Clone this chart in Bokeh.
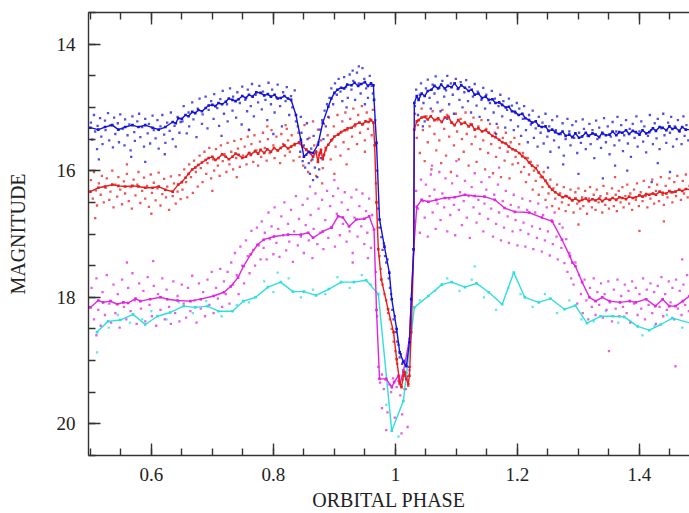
from bokeh.plotting import figure
from bokeh.models import Range1d, LinearAxis, FixedTicker
from bokeh.embed import file_html
from bokeh.resources import INLINE

# ---------------- data ----------------
x_major = [0.6, 0.8, 1.0, 1.2, 1.4]
x_labels = {0.6: "0.6", 0.8: "0.8", 1.0: "1", 1.2: "1.2", 1.4: "1.4"}
x_minor = [0.5, 0.55, 0.6, 0.65, 0.7, 0.75, 0.8, 0.85, 0.9, 0.95, 1.0, 1.05,
           1.1, 1.15, 1.2, 1.25, 1.3, 1.35, 1.4, 1.45]
y_major = [14, 16, 18, 20]
y_minor = [13.5, 14, 14.5, 15, 15.5, 16, 16.5, 17, 17.5, 18, 18.5, 19, 19.5, 20, 20.5]

blue_x = [0.500, 0.513, 0.524, 0.536, 0.546, 0.557, 0.569, 0.579, 0.590, 0.602, 0.612, 0.623,
          0.635, 0.640, 0.644, 0.650, 0.656, 0.661, 0.667, 0.672, 0.677, 0.683, 0.689, 0.694,
          0.700, 0.705, 0.710, 0.716, 0.722, 0.727, 0.733, 0.738, 0.743, 0.749, 0.755, 0.760,
          0.766, 0.772, 0.779, 0.785, 0.791, 0.796, 0.802, 0.807, 0.812, 0.818, 0.824, 0.829,
          0.837, 0.845, 0.850, 0.858, 0.865, 0.873, 0.881, 0.890, 0.895, 0.900, 0.905, 0.911,
          0.916, 0.921, 0.928, 0.933, 0.939, 0.944, 0.950, 0.955, 0.960, 0.964, 0.965, 0.969,
          0.974, 0.982, 0.990, 0.994, 1.002, 1.007, 1.013, 1.018, 1.023, 1.026, 1.030, 1.031,
          1.035, 1.038, 1.043, 1.048, 1.053, 1.059, 1.064, 1.070, 1.075, 1.081, 1.086, 1.092,
          1.097, 1.103, 1.108, 1.114, 1.120, 1.125, 1.130, 1.136, 1.142, 1.148, 1.153, 1.159,
          1.164, 1.170, 1.175, 1.181, 1.186, 1.191, 1.196, 1.202, 1.208, 1.213, 1.219, 1.224,
          1.230, 1.235, 1.240, 1.246, 1.251, 1.257, 1.262, 1.268, 1.274, 1.279, 1.285, 1.290,
          1.295, 1.301, 1.306, 1.312, 1.317, 1.323, 1.328, 1.334, 1.339, 1.345, 1.351, 1.356,
          1.362, 1.367, 1.372, 1.378, 1.383, 1.389, 1.394, 1.400, 1.405, 1.411, 1.416, 1.422,
          1.427, 1.433, 1.438, 1.444, 1.449, 1.454, 1.459, 1.465, 1.470, 1.476, 1.485]
blue_y = [15.32, 15.35, 15.31, 15.28, 15.35, 15.31, 15.28, 15.31, 15.28, 15.32, 15.35, 15.31,
          15.23, 15.25, 15.17, 15.18, 15.12, 15.14, 15.07, 15.09, 15.04, 15.06, 15.01, 14.97,
          14.96, 14.98, 14.93, 14.95, 14.91, 14.86, 14.88, 14.90, 14.87, 14.82, 14.85, 14.80,
          14.83, 14.76, 14.77, 14.81, 14.79, 14.83, 14.80, 14.86, 14.85, 14.82, 14.86, 14.88,
          15.12, 15.51, 15.78, 15.70, 15.72, 15.59, 15.24, 14.99, 14.86, 14.77, 14.72, 14.69,
          14.70, 14.64, 14.65, 14.61, 14.66, 14.63, 14.60, 14.66, 14.62, 14.65, 14.88, 15.56,
          16.77, 17.20, 17.61, 18.03, 18.50, 18.87, 19.02, 19.09, 18.71, 18.03, 17.24, 14.93,
          14.82, 14.88, 14.78, 14.82, 14.74, 14.72, 14.66, 14.70, 14.64, 14.70, 14.66, 14.68,
          14.62, 14.70, 14.65, 14.69, 14.74, 14.72, 14.80, 14.78, 14.85, 14.83, 14.88, 14.87,
          14.93, 14.92, 14.96, 15.00, 14.99, 15.06, 15.07, 15.12, 15.10, 15.17, 15.20, 15.24,
          15.22, 15.29, 15.31, 15.30, 15.37, 15.35, 15.39, 15.42, 15.38, 15.45, 15.43, 15.47,
          15.41, 15.48, 15.46, 15.40, 15.45, 15.41, 15.43, 15.47, 15.40, 15.44, 15.43, 15.38,
          15.44, 15.39, 15.40, 15.36, 15.42, 15.37, 15.39, 15.43, 15.36, 15.41, 15.39, 15.33,
          15.37, 15.31, 15.32, 15.36, 15.30, 15.34, 15.32, 15.37, 15.31, 15.35, 15.35]

red_x = [0.500, 0.513, 0.524, 0.536, 0.546, 0.557, 0.569, 0.579, 0.590, 0.602, 0.612, 0.623,
         0.635, 0.644, 0.650, 0.656, 0.661, 0.667, 0.672, 0.677, 0.683, 0.689, 0.694, 0.700,
         0.705, 0.710, 0.716, 0.722, 0.727, 0.733, 0.738, 0.743, 0.749, 0.755, 0.760, 0.763,
         0.770, 0.775, 0.779, 0.785, 0.790, 0.796, 0.801, 0.807, 0.812, 0.818, 0.824, 0.829,
         0.835, 0.842, 0.848, 0.854, 0.860, 0.865, 0.870, 0.873, 0.876, 0.878, 0.881, 0.883,
         0.886, 0.890, 0.895, 0.900, 0.906, 0.911, 0.917, 0.922, 0.928, 0.934, 0.941, 0.946,
         0.951, 0.956, 0.960, 0.964, 0.966, 0.969, 0.972, 0.977, 0.988, 0.997, 1.002, 1.007,
         1.010, 1.013, 1.015, 1.018, 1.021, 1.023, 1.026, 1.030, 1.031, 1.035, 1.038, 1.043,
         1.048, 1.053, 1.058, 1.064, 1.070, 1.076, 1.081, 1.087, 1.092, 1.097, 1.103, 1.108,
         1.114, 1.120, 1.125, 1.130, 1.136, 1.142, 1.148, 1.153, 1.159, 1.164, 1.170, 1.175,
         1.181, 1.186, 1.192, 1.197, 1.203, 1.208, 1.213, 1.219, 1.224, 1.230, 1.235, 1.241,
         1.246, 1.252, 1.257, 1.262, 1.268, 1.274, 1.279, 1.285, 1.290, 1.295, 1.301, 1.306,
         1.312, 1.317, 1.323, 1.328, 1.334, 1.339, 1.345, 1.351, 1.356, 1.362, 1.367, 1.372,
         1.378, 1.383, 1.389, 1.394, 1.400, 1.405, 1.411, 1.416, 1.422, 1.427, 1.433, 1.438,
         1.444, 1.449, 1.454, 1.459, 1.465, 1.470, 1.476, 1.485]
red_y = [16.33, 16.27, 16.25, 16.22, 16.24, 16.25, 16.24, 16.25, 16.27, 16.27, 16.25, 16.30,
         16.33, 16.22, 16.18, 16.11, 16.05, 15.98, 15.95, 15.91, 15.87, 15.83, 15.80, 15.78,
         15.83, 15.80, 15.74, 15.78, 15.82, 15.78, 15.73, 15.75, 15.80, 15.78, 15.72, 15.75,
         15.69, 15.73, 15.67, 15.72, 15.66, 15.70, 15.64, 15.68, 15.64, 15.60, 15.65, 15.62,
         15.58, 15.56, 15.62, 15.67, 15.72, 15.78, 15.70, 15.86, 15.72, 15.67, 15.82, 15.75,
         15.64, 15.59, 15.52, 15.46, 15.43, 15.39, 15.36, 15.33, 15.32, 15.27, 15.24, 15.27,
         15.22, 15.23, 15.20, 15.24, 15.60, 16.50, 17.24, 17.72, 18.19, 18.55, 18.98, 19.34,
         19.42, 19.24, 19.18, 19.29, 19.37, 19.24, 18.55, 17.24, 15.35, 15.22, 15.20, 15.16,
         15.15, 15.19, 15.14, 15.20, 15.17, 15.23, 15.16, 15.15, 15.24, 15.28, 15.20, 15.26,
         15.24, 15.30, 15.27, 15.35, 15.33, 15.38, 15.36, 15.40, 15.45, 15.47, 15.51, 15.55,
         15.57, 15.62, 15.66, 15.68, 15.72, 15.77, 15.80, 15.87, 15.92, 15.96, 16.03, 16.10,
         16.16, 16.25, 16.30, 16.34, 16.38, 16.42, 16.40, 16.43, 16.47, 16.44, 16.48, 16.46,
         16.44, 16.48, 16.45, 16.47, 16.44, 16.48, 16.44, 16.46, 16.43, 16.46, 16.42, 16.43,
         16.45, 16.41, 16.43, 16.42, 16.39, 16.41, 16.37, 16.38, 16.36, 16.38, 16.33, 16.35,
         16.36, 16.32, 16.34, 16.33, 16.30, 16.32, 16.29, 16.30]

magenta_x = [0.500, 0.513, 0.521, 0.533, 0.544, 0.554, 0.562, 0.574, 0.582, 0.598, 0.615, 0.626,
             0.643, 0.664, 0.681, 0.702, 0.719, 0.730, 0.742, 0.751, 0.763, 0.774, 0.784, 0.801,
             0.824, 0.845, 0.857, 0.865, 0.881, 0.895, 0.906, 0.914, 0.924, 0.936, 0.949, 0.957,
             0.965, 0.969, 0.974, 0.985, 0.994, 0.998, 1.005, 1.007, 1.013, 1.023, 1.030, 1.035,
             1.043, 1.054, 1.067, 1.081, 1.097, 1.114, 1.130, 1.146, 1.163, 1.179, 1.196, 1.219,
             1.240, 1.257, 1.273, 1.286, 1.290, 1.295, 1.306, 1.318, 1.328, 1.339, 1.351, 1.368,
             1.384, 1.394, 1.411, 1.426, 1.438, 1.449, 1.459, 1.471, 1.482]
magenta_y = [18.16, 18.05, 18.08, 18.06, 18.11, 18.08, 18.09, 18.02, 18.06, 18.03, 18.00, 18.03,
             18.05, 18.06, 18.03, 17.98, 17.92, 17.83, 17.69, 17.51, 17.32, 17.17, 17.09, 17.04,
             17.01, 17.01, 16.98, 17.06, 16.96, 16.90, 16.72, 16.74, 16.88, 16.77, 16.76, 16.72,
             16.93, 18.20, 19.29, 19.29, 19.42, 19.34, 19.24, 19.37, 19.18, 18.66, 17.24, 16.57,
             16.46, 16.49, 16.46, 16.43, 16.42, 16.38, 16.40, 16.41, 16.46, 16.59, 16.65, 16.66,
             16.74, 16.80, 17.09, 17.35, 17.45, 17.51, 17.76, 18.00, 18.06, 18.00, 18.06, 18.08,
             18.06, 18.08, 18.03, 18.14, 18.03, 18.14, 18.14, 18.06, 17.98]

cyan_x = [0.511, 0.529, 0.549, 0.570, 0.590, 0.610, 0.631, 0.653, 0.672, 0.692, 0.710, 0.733,
          0.751, 0.771, 0.791, 0.812, 0.832, 0.850, 0.870, 0.891, 0.911, 0.932, 0.952, 0.972,
          0.994, 1.013, 1.031, 1.054, 1.076, 1.092, 1.114, 1.133, 1.153, 1.175, 1.194, 1.212,
          1.235, 1.254, 1.277, 1.295, 1.314, 1.336, 1.356, 1.375, 1.397, 1.416, 1.435, 1.454,
          1.485]
cyan_y = [18.55, 18.38, 18.36, 18.27, 18.43, 18.30, 18.24, 18.14, 18.16, 18.14, 18.22, 18.22,
          18.06, 18.00, 17.84, 17.76, 17.91, 17.91, 17.97, 17.87, 17.76, 17.76, 17.73, 17.95,
          20.11, 19.64, 18.16, 17.98, 17.80, 17.76, 17.84, 17.78, 17.92, 18.11, 17.61, 18.00,
          18.08, 18.02, 18.19, 18.13, 18.41, 18.30, 18.30, 18.31, 18.46, 18.52, 18.43, 18.33,
          18.41]

blue_dots = [
    (0.501, 15.24), (0.503, 15.51), (0.506, 15.12), (0.508, 15.38), (0.511, 15.66), (0.512, 15.29),
    (0.516, 15.17), (0.518, 15.46), (0.520, 15.58), (0.524, 15.21), (0.525, 15.36), (0.529, 15.09),
    (0.531, 15.52), (0.533, 15.28), (0.537, 15.63), (0.539, 15.16), (0.541, 15.42), (0.545, 15.25),
    (0.547, 15.55), (0.549, 15.11), (0.553, 15.34), (0.556, 15.60), (0.557, 15.19), (0.561, 15.44),
    (0.564, 15.27), (0.566, 15.68), (0.569, 15.14), (0.572, 15.39), (0.573, 15.53), (0.577, 15.22),
    (0.580, 15.10), (0.582, 15.47), (0.585, 15.31), (0.588, 15.62), (0.590, 15.18), (0.594, 15.41),
    (0.596, 15.26), (0.598, 15.57), (0.602, 15.13), (0.604, 15.36), (0.607, 15.49), (0.610, 15.20),
    (0.612, 15.65), (0.615, 15.30), (0.618, 15.12), (0.621, 15.43), (0.623, 15.56), (0.626, 15.24),
    (0.630, 15.37), (0.632, 15.08), (0.635, 15.50), (0.638, 15.29), (0.640, 15.62), (0.643, 15.15),
    (0.646, 15.40), (0.648, 15.23), (0.514, 15.82), (0.567, 15.78), (0.622, 15.74), (0.590, 15.86),
    (0.651, 15.22), (0.653, 14.98), (0.658, 15.41), (0.661, 15.08), (0.662, 15.30), (0.667, 14.92),
    (0.669, 15.19), (0.674, 15.47), (0.676, 15.02), (0.679, 14.86), (0.683, 15.26), (0.684, 15.11),
    (0.689, 14.83), (0.692, 15.33), (0.694, 15.04), (0.698, 14.90), (0.702, 15.18), (0.703, 14.79),
    (0.708, 15.01), (0.711, 15.29), (0.713, 14.87), (0.717, 14.74), (0.719, 15.10), (0.724, 14.95),
    (0.725, 15.22), (0.729, 14.70), (0.733, 15.05), (0.734, 14.83), (0.739, 15.16), (0.741, 14.76),
    (0.745, 14.93), (0.748, 15.27), (0.749, 14.67), (0.754, 14.88), (0.757, 15.06), (0.758, 14.72),
    (0.763, 14.98), (0.765, 14.63), (0.768, 15.14), (0.771, 14.80), (0.775, 14.92), (0.777, 14.66),
    (0.781, 15.03), (0.783, 14.75), (0.787, 14.88), (0.790, 15.20), (0.792, 14.61), (0.796, 14.95),
    (0.798, 14.72), (0.802, 15.08), (0.805, 14.84), (0.807, 14.64), (0.811, 14.98), (0.814, 15.30),
    (0.816, 14.76), (0.820, 14.90), (0.822, 14.68), (0.826, 15.12), (0.829, 14.82), (0.831, 15.00),
    (0.835, 14.73), (0.837, 15.22), (0.715, 15.45), (0.760, 15.35), (0.800, 15.42),
    (0.840, 15.30), (0.842, 15.55), (0.844, 15.70), (0.846, 15.40), (0.848, 15.85), (0.850, 15.60),
    (0.852, 15.95), (0.854, 15.75), (0.856, 15.50), (0.858, 15.88), (0.860, 16.05), (0.862, 15.65),
    (0.864, 15.82), (0.866, 15.45), (0.868, 15.95), (0.870, 15.70), (0.872, 16.10), (0.874, 15.55),
    (0.876, 15.35), (0.878, 15.80), (0.880, 15.20), (0.882, 15.50), (0.884, 15.05), (0.886, 15.30),
    (0.888, 14.95), (0.890, 15.15), (0.845, 15.15), (0.855, 15.25), (0.865, 16.15), (0.875, 15.98),
    (0.892, 14.85), (0.895, 14.70), (0.898, 14.95), (0.901, 14.62), (0.904, 14.80), (0.907, 14.55),
    (0.910, 14.75), (0.913, 14.90), (0.916, 14.52), (0.919, 14.68), (0.922, 14.85), (0.925, 14.48),
    (0.928, 14.72), (0.931, 14.58), (0.934, 14.88), (0.937, 14.45), (0.940, 14.62), (0.943, 14.78),
    (0.946, 14.38), (0.949, 14.55), (0.952, 14.70), (0.955, 14.85), (0.958, 14.50), (0.961, 14.66),
    (0.963, 14.78), (0.940, 14.35), (0.930, 14.42), (0.920, 15.00), (0.950, 14.95),
    (0.967, 15.20), (0.970, 16.00), (0.972, 16.60), (0.975, 16.90), (0.977, 17.05), (0.979, 17.25),
    (0.981, 17.15), (0.983, 17.35), (0.985, 17.45), (0.987, 17.40), (0.989, 17.70), (0.991, 17.85),
    (0.993, 17.95), (0.995, 18.20), (0.997, 18.35), (0.999, 18.30), (1.001, 18.55), (1.003, 18.70),
    (1.005, 18.75), (1.007, 18.95), (1.009, 18.90), (1.011, 19.05), (1.013, 19.15), (1.015, 19.00),
    (1.017, 19.20), (1.019, 19.25), (1.021, 19.10), (1.023, 18.80), (1.026, 18.40),
    (1.032, 14.98), (1.034, 14.72), (1.037, 15.12), (1.040, 14.80), (1.042, 14.62), (1.046, 14.93),
    (1.048, 15.22), (1.050, 14.70), (1.053, 14.56), (1.056, 14.85), (1.058, 15.02), (1.061, 14.64),
    (1.064, 14.78), (1.066, 14.51), (1.069, 14.92), (1.072, 14.69), (1.074, 15.06), (1.077, 14.58),
    (1.080, 14.83), (1.083, 14.73), (1.085, 14.50), (1.088, 14.95), (1.091, 14.62), (1.094, 14.80),
    (1.096, 15.10), (1.099, 14.55), (1.102, 14.71), (1.105, 14.88), (1.107, 14.60), (1.110, 15.00),
    (1.113, 14.76), (1.116, 14.57), (1.119, 14.90), (1.121, 14.68), (1.124, 15.08), (1.127, 14.83),
    (1.130, 14.63), (1.133, 14.97), (1.135, 14.75), (1.138, 15.15), (1.141, 14.88), (1.144, 14.69),
    (1.147, 15.02), (1.149, 14.80), (1.152, 15.20), (1.155, 14.93), (1.158, 14.74), (1.161, 15.08),
    (1.163, 14.86), (1.166, 15.26), (1.169, 14.98), (1.172, 14.80), (1.175, 15.14), (1.177, 14.90),
    (1.180, 15.32), (1.183, 15.04), (1.186, 14.86), (1.189, 15.20), (1.191, 14.97), (1.194, 15.36),
    (1.197, 15.09), (1.199, 14.93), (1.045, 15.30), (1.085, 15.18), (1.125, 15.28), (1.165, 15.42),
    (1.201, 15.30), (1.203, 15.02), (1.206, 15.45), (1.209, 15.18), (1.211, 14.98), (1.214, 15.36),
    (1.217, 15.55), (1.219, 15.12), (1.222, 15.27), (1.225, 15.05), (1.227, 15.48), (1.230, 15.33),
    (1.233, 15.62), (1.235, 15.15), (1.238, 15.40), (1.241, 15.24), (1.243, 15.57), (1.246, 15.10),
    (1.249, 15.46), (1.252, 15.30), (1.254, 15.70), (1.257, 15.20), (1.260, 15.52), (1.263, 15.36),
    (1.265, 15.14), (1.268, 15.63), (1.271, 15.42), (1.274, 15.25), (1.276, 15.76), (1.279, 15.50),
    (1.282, 15.18), (1.285, 15.38), (1.287, 15.60), (1.290, 15.28), (1.293, 15.48), (1.296, 15.22),
    (1.298, 15.72), (1.301, 15.40), (1.304, 15.56), (1.307, 15.19), (1.309, 15.34), (1.312, 15.66),
    (1.315, 15.45), (1.318, 15.26), (1.320, 15.58), (1.323, 15.36), (1.326, 15.80), (1.329, 15.21),
    (1.331, 15.50), (1.334, 15.32), (1.337, 15.64), (1.340, 15.42), (1.342, 15.17), (1.345, 15.55),
    (1.348, 15.30), (1.351, 15.74), (1.353, 15.46), (1.356, 15.23), (1.359, 15.60), (1.362, 15.38),
    (1.364, 15.15), (1.367, 15.52), (1.370, 15.28), (1.373, 15.69), (1.375, 15.44), (1.378, 15.20),
    (1.381, 15.57), (1.384, 15.34), (1.386, 15.78), (1.389, 15.26), (1.392, 15.48), (1.395, 15.14),
    (1.397, 15.62), (1.400, 15.38), (1.403, 15.22), (1.406, 15.54), (1.408, 15.30), (1.411, 15.71),
    (1.414, 15.45), (1.417, 15.12), (1.419, 15.36), (1.422, 15.58), (1.425, 15.25), (1.428, 15.49),
    (1.430, 15.18), (1.433, 15.66), (1.436, 15.33), (1.439, 15.10), (1.441, 15.44), (1.444, 15.56),
    (1.447, 15.24), (1.450, 15.40), (1.452, 15.15), (1.455, 15.62), (1.458, 15.30), (1.461, 15.50),
    (1.463, 15.20), (1.466, 15.38), (1.469, 15.58), (1.472, 15.14), (1.474, 15.45), (1.477, 15.28),
    (1.480, 15.52), (1.483, 15.22), (1.300, 16.05), (1.340, 16.12), (1.380, 16.00), (1.420, 16.18),
    (1.450, 16.02), (1.250, 15.95), (1.275, 15.90), (1.360, 15.92), (1.430, 15.88),
]

red_dots = [
    (0.501, 16.15), (0.504, 16.44), (0.506, 16.02), (0.509, 16.31), (0.511, 16.55), (0.514, 16.20),
    (0.517, 16.38), (0.519, 16.08), (0.522, 16.50), (0.525, 16.27), (0.527, 16.12), (0.531, 16.46),
    (0.533, 16.33), (0.536, 16.00), (0.538, 16.58), (0.541, 16.22), (0.544, 16.41), (0.546, 16.10),
    (0.549, 16.30), (0.552, 16.53), (0.555, 16.17), (0.557, 16.36), (0.560, 16.05), (0.563, 16.48),
    (0.566, 16.26), (0.568, 16.60), (0.571, 16.14), (0.574, 16.39), (0.577, 16.22), (0.579, 16.02),
    (0.582, 16.51), (0.585, 16.32), (0.588, 16.11), (0.590, 16.44), (0.593, 16.24), (0.596, 16.57),
    (0.599, 16.06), (0.601, 16.35), (0.604, 16.19), (0.607, 16.47), (0.610, 16.28), (0.612, 16.03),
    (0.615, 16.55), (0.618, 16.37), (0.621, 16.13), (0.624, 16.42), (0.626, 16.25), (0.629, 16.62),
    (0.632, 16.09), (0.635, 16.40), (0.637, 16.20), (0.640, 16.52), (0.643, 16.33), (0.646, 16.07),
    (0.648, 16.45), (0.508, 16.75), (0.600, 16.68), (0.560, 15.90),
    (0.651, 16.30), (0.654, 15.98), (0.657, 16.18), (0.659, 16.42), (0.662, 15.90), (0.665, 16.10),
    (0.668, 16.35), (0.670, 15.84), (0.673, 16.02), (0.676, 16.25), (0.679, 15.76), (0.681, 15.96),
    (0.684, 16.18), (0.687, 15.70), (0.690, 16.05), (0.692, 15.88), (0.695, 15.64), (0.698, 16.12),
    (0.701, 15.82), (0.703, 16.00), (0.706, 15.66), (0.709, 15.92), (0.712, 16.08), (0.714, 15.60),
    (0.717, 15.85), (0.720, 15.74), (0.723, 16.02), (0.725, 15.56), (0.728, 15.90), (0.731, 15.70),
    (0.734, 15.98), (0.736, 15.53), (0.739, 15.80), (0.742, 15.65), (0.745, 15.94), (0.747, 15.50),
    (0.750, 15.76), (0.753, 15.62), (0.756, 15.90), (0.758, 15.46), (0.761, 15.72), (0.764, 15.58),
    (0.767, 15.86), (0.769, 15.44), (0.772, 15.68), (0.775, 15.92), (0.778, 15.54), (0.780, 15.78),
    (0.783, 15.40), (0.786, 15.64), (0.789, 15.84), (0.791, 15.50), (0.794, 15.72), (0.797, 15.36),
    (0.800, 15.60), (0.802, 15.80), (0.805, 15.46), (0.808, 15.68), (0.811, 15.88), (0.813, 15.42),
    (0.816, 15.58), (0.819, 15.76), (0.822, 15.34), (0.824, 15.52), (0.827, 15.70), (0.830, 15.44),
    (0.833, 15.84), (0.835, 15.60), (0.760, 15.36), (0.790, 15.30), (0.820, 15.28), (0.700, 16.32),
    (0.740, 16.10),
    (0.841, 15.40), (0.843, 15.78), (0.846, 15.55), (0.849, 15.92), (0.851, 15.28), (0.854, 15.66),
    (0.857, 16.02), (0.859, 15.48), (0.862, 15.84), (0.865, 15.22), (0.867, 15.60), (0.870, 16.08),
    (0.873, 15.35), (0.875, 15.75), (0.878, 15.52), (0.881, 15.96), (0.883, 15.26), (0.886, 15.68),
    (0.889, 15.44), (0.891, 15.16), (0.894, 15.82), (0.897, 15.50), (0.899, 15.30), (0.902, 15.62),
    (0.905, 15.12), (0.907, 15.42), (0.910, 15.76), (0.913, 15.22), (0.915, 15.55), (0.918, 15.08),
    (0.921, 15.36), (0.923, 15.66), (0.926, 15.18), (0.929, 15.46), (0.931, 15.02), (0.934, 15.30),
    (0.937, 15.58), (0.939, 15.12), (0.942, 15.40), (0.945, 14.98), (0.947, 15.26), (0.950, 15.52),
    (0.953, 15.08), (0.955, 15.34), (0.958, 15.18), (0.961, 15.44), (0.963, 15.04), (0.880, 16.20),
    (0.920, 15.90), (0.950, 15.70), (0.900, 16.05),
    (0.968, 16.20), (0.971, 16.90), (0.974, 17.35), (0.976, 17.55), (0.979, 17.80), (0.982, 17.95),
    (0.985, 18.05), (0.988, 18.25), (0.991, 18.35), (0.994, 18.50), (0.997, 18.70), (1.000, 18.85),
    (1.003, 19.05), (1.006, 19.25), (1.009, 19.40), (1.012, 19.30), (1.015, 19.45), (1.018, 19.20),
    (1.021, 19.40), (1.024, 19.10), (1.027, 18.40),
    (1.032, 15.10), (1.035, 15.48), (1.037, 15.28), (1.040, 15.72), (1.043, 15.02), (1.045, 15.36),
    (1.048, 15.85), (1.051, 15.14), (1.053, 15.55), (1.056, 15.30), (1.059, 15.98), (1.061, 15.06),
    (1.064, 15.42), (1.067, 15.68), (1.069, 15.20), (1.072, 15.52), (1.075, 15.88), (1.077, 15.04),
    (1.080, 15.34), (1.083, 15.76), (1.085, 15.12), (1.088, 15.46), (1.091, 16.02), (1.093, 15.24),
    (1.096, 15.60), (1.099, 15.10), (1.101, 15.38), (1.104, 15.82), (1.107, 15.18), (1.109, 15.50),
    (1.112, 15.70), (1.115, 15.08), (1.117, 15.42), (1.120, 15.92), (1.123, 15.26), (1.125, 15.58),
    (1.128, 15.16), (1.131, 15.46), (1.133, 15.86), (1.136, 15.30), (1.139, 15.66), (1.141, 15.20),
    (1.144, 15.52), (1.147, 15.98), (1.149, 15.34), (1.152, 15.72), (1.155, 15.26), (1.157, 15.58),
    (1.160, 16.04), (1.163, 15.40), (1.165, 15.78), (1.168, 15.32), (1.171, 15.64), (1.173, 16.10),
    (1.176, 15.48), (1.179, 15.84), (1.181, 15.40), (1.184, 15.70), (1.187, 16.12), (1.189, 15.55),
    (1.192, 15.90), (1.195, 15.48), (1.197, 15.78),
    (1.201, 15.88), (1.203, 15.58), (1.206, 16.02), (1.209, 15.72), (1.211, 15.94), (1.214, 16.18),
    (1.217, 15.80), (1.219, 16.06), (1.222, 15.86), (1.225, 16.30), (1.227, 16.00), (1.230, 16.16),
    (1.233, 15.92), (1.235, 16.38), (1.238, 16.10), (1.241, 16.26), (1.243, 16.02), (1.246, 16.46),
    (1.249, 16.20), (1.251, 16.36), (1.254, 16.14), (1.257, 16.56), (1.259, 16.28), (1.262, 16.44),
    (1.265, 16.22), (1.268, 16.60), (1.270, 16.36), (1.273, 16.50), (1.276, 16.26), (1.279, 16.64),
    (1.281, 16.40), (1.284, 16.54), (1.287, 16.30), (1.289, 16.46), (1.292, 16.66), (1.295, 16.34),
    (1.298, 16.52), (1.300, 16.28), (1.303, 16.60), (1.306, 16.42), (1.308, 16.56), (1.311, 16.32),
    (1.314, 16.68), (1.317, 16.44), (1.319, 16.26), (1.322, 16.58), (1.325, 16.38), (1.328, 16.62),
    (1.330, 16.30), (1.333, 16.50), (1.336, 16.40), (1.339, 16.66), (1.341, 16.24), (1.344, 16.54),
    (1.347, 16.36), (1.350, 16.60), (1.352, 16.46), (1.355, 16.28), (1.358, 16.56), (1.361, 16.38),
    (1.363, 16.64), (1.366, 16.32), (1.369, 16.50), (1.372, 16.26), (1.374, 16.58), (1.377, 16.40),
    (1.380, 16.22), (1.383, 16.52), (1.385, 16.36), (1.388, 16.62), (1.391, 16.30), (1.394, 16.46),
    (1.396, 16.20), (1.399, 16.56), (1.402, 16.34), (1.405, 16.48), (1.407, 16.16), (1.410, 16.40),
    (1.413, 16.58), (1.416, 16.26), (1.418, 16.44), (1.421, 16.14), (1.424, 16.52), (1.427, 16.32),
    (1.429, 16.22), (1.432, 16.48), (1.435, 16.10), (1.438, 16.38), (1.440, 16.54), (1.443, 16.24),
    (1.446, 16.42), (1.449, 16.12), (1.451, 16.34), (1.454, 16.50), (1.457, 16.18), (1.460, 16.40),
    (1.462, 16.08), (1.465, 16.30), (1.468, 16.46), (1.471, 16.16), (1.473, 16.36), (1.476, 16.06),
    (1.479, 16.42), (1.482, 16.24), (1.400, 16.95), (1.360, 16.10), (1.300, 16.85), (1.440, 16.80),
]

magenta_dots = [
    (0.502, 17.85), (0.506, 18.35), (0.510, 17.70), (0.513, 18.20), (0.517, 18.45), (0.520, 17.92),
    (0.524, 18.28), (0.527, 17.65), (0.531, 18.10), (0.534, 18.40), (0.538, 17.80), (0.541, 18.25),
    (0.545, 17.95), (0.548, 18.48), (0.552, 17.72), (0.555, 18.15), (0.559, 18.35), (0.562, 17.85),
    (0.566, 18.22), (0.569, 17.62), (0.573, 18.05), (0.576, 18.42), (0.580, 17.78), (0.583, 18.18),
    (0.587, 17.90), (0.590, 18.38), (0.594, 17.68), (0.597, 18.12), (0.601, 18.30), (0.604, 17.82),
    (0.608, 18.45), (0.611, 17.95), (0.615, 18.20), (0.618, 17.70), (0.622, 18.35), (0.625, 17.88),
    (0.629, 18.15), (0.632, 18.42), (0.636, 17.75), (0.639, 18.25), (0.643, 17.98), (0.646, 18.38),
    (0.650, 17.80), (0.653, 18.10), (0.657, 18.32), (0.660, 17.85), (0.664, 18.22), (0.667, 17.66),
    (0.671, 18.05), (0.674, 18.40), (0.678, 17.78), (0.681, 18.18), (0.685, 17.92), (0.688, 18.30),
    (0.692, 17.72), (0.695, 18.12), (0.699, 17.60), (0.702, 18.25), (0.706, 17.85), (0.709, 18.02),
    (0.713, 17.55), (0.716, 18.15), (0.719, 17.75), (0.560, 17.45), (0.603, 17.43), (0.510, 18.60),
    (0.722, 17.95), (0.725, 17.60), (0.728, 18.10), (0.731, 17.45), (0.734, 17.80), (0.737, 17.30),
    (0.740, 17.65), (0.743, 17.95), (0.746, 17.20), (0.749, 17.50), (0.752, 17.78), (0.755, 17.10),
    (0.758, 17.35), (0.761, 17.62), (0.764, 16.95), (0.767, 17.25), (0.770, 17.50), (0.773, 16.90),
    (0.776, 17.18), (0.779, 17.40),
    (0.781, 16.80), (0.784, 17.22), (0.786, 16.98), (0.789, 17.40), (0.792, 16.66), (0.794, 17.08),
    (0.797, 16.88), (0.800, 17.32), (0.802, 16.58), (0.805, 17.14), (0.808, 16.92), (0.810, 17.36),
    (0.813, 16.72), (0.816, 17.02), (0.818, 16.50), (0.821, 17.26), (0.824, 16.84), (0.826, 17.12),
    (0.829, 16.62), (0.832, 17.44), (0.834, 16.96), (0.837, 16.40), (0.840, 17.18), (0.842, 16.76),
    (0.845, 17.04), (0.848, 16.54), (0.850, 17.30), (0.853, 16.86), (0.856, 16.44), (0.858, 17.10),
    (0.861, 16.70), (0.864, 17.38), (0.866, 16.92), (0.869, 16.36), (0.872, 17.16), (0.874, 16.60),
    (0.877, 16.98), (0.880, 16.46), (0.882, 17.24), (0.885, 16.78), (0.888, 16.32), (0.890, 17.06),
    (0.893, 16.56), (0.896, 16.90), (0.898, 16.40), (0.901, 17.20), (0.904, 16.68), (0.906, 16.28),
    (0.909, 17.02), (0.912, 16.50), (0.914, 16.84), (0.917, 16.34), (0.920, 17.12), (0.922, 16.62),
    (0.925, 16.96), (0.928, 16.42), (0.930, 17.30), (0.933, 16.74), (0.936, 16.30), (0.938, 17.04),
    (0.941, 16.56), (0.944, 16.88), (0.946, 16.36), (0.949, 17.16), (0.952, 16.64), (0.954, 16.98),
    (0.957, 16.44), (0.960, 17.22), (0.962, 16.70), (0.900, 16.15), (0.860, 16.25), (0.930, 17.45),
    (0.955, 17.38),
    (0.968, 17.60), (0.970, 18.30), (0.972, 19.10), (0.975, 19.35), (0.978, 19.22), (0.981, 19.45),
    (0.984, 19.30), (0.987, 19.82), (0.990, 19.38), (0.993, 19.50), (0.996, 19.28), (0.999, 19.90),
    (1.002, 19.42), (1.005, 19.32), (1.008, 19.55), (1.011, 19.85), (1.014, 19.25), (1.017, 19.45),
    (1.020, 20.05), (1.023, 19.15), (1.026, 18.50), (0.985, 20.10), (1.010, 20.15), (0.978, 19.75),
    (1.032, 16.80), (1.034, 16.32), (1.037, 16.60), (1.040, 16.98), (1.042, 16.14), (1.045, 16.48),
    (1.048, 16.74), (1.050, 16.22), (1.053, 17.04), (1.056, 16.40), (1.058, 16.06), (1.061, 16.66),
    (1.064, 16.30), (1.066, 16.92), (1.069, 16.52), (1.072, 16.02), (1.074, 16.78), (1.077, 16.36),
    (1.080, 16.58), (1.082, 16.12), (1.085, 16.96), (1.088, 16.44), (1.090, 16.70), (1.093, 16.20),
    (1.096, 16.54), (1.098, 17.02), (1.101, 16.08), (1.104, 16.62), (1.106, 16.34), (1.109, 16.86),
    (1.112, 16.48), (1.114, 16.16), (1.117, 16.74), (1.120, 16.40), (1.122, 17.06), (1.125, 16.26),
    (1.128, 16.58), (1.130, 16.04), (1.133, 16.82), (1.136, 16.46), (1.138, 16.68), (1.141, 16.18),
    (1.144, 16.96), (1.146, 16.52), (1.149, 16.30), (1.152, 16.76), (1.154, 16.10), (1.157, 16.60),
    (1.160, 17.04), (1.162, 16.38), (1.165, 16.84), (1.168, 16.22), (1.170, 16.66), (1.173, 17.10),
    (1.176, 16.48), (1.178, 16.90), (1.181, 16.32), (1.184, 16.72), (1.186, 17.14), (1.189, 16.54),
    (1.192, 16.96), (1.194, 16.38), (1.197, 16.78), (1.200, 17.18), (1.202, 16.58), (1.205, 16.94),
    (1.208, 16.44), (1.210, 16.82), (1.213, 17.20), (1.216, 16.62), (1.218, 17.00), (1.221, 16.48),
    (1.224, 16.88), (1.226, 17.24), (1.229, 16.66), (1.232, 17.06), (1.234, 16.52), (1.237, 16.92),
    (1.240, 17.28), (1.242, 16.70), (1.245, 17.10), (1.248, 16.58), (1.250, 16.96), (1.253, 17.34),
    (1.256, 16.78), (1.258, 17.16), (1.261, 16.66), (1.264, 17.04), (1.266, 17.40), (1.269, 16.84),
    (1.272, 17.22), (1.274, 16.90), (1.277, 17.46), (1.280, 17.08), (1.282, 17.60), (1.285, 17.30),
    (1.288, 17.70), (1.100, 15.85), (1.060, 15.92), (1.170, 15.95),
    (1.292, 17.80), (1.295, 17.45), (1.298, 18.10), (1.301, 17.65), (1.304, 17.95), (1.307, 18.25),
    (1.310, 17.72), (1.313, 18.05), (1.316, 18.35), (1.319, 17.85), (1.322, 18.15), (1.325, 17.70),
    (1.328, 18.28), (1.331, 17.92), (1.334, 18.12), (1.337, 17.78), (1.340, 18.32), (1.343, 17.95),
    (1.346, 18.20), (1.349, 17.75), (1.352, 18.08), (1.355, 18.38), (1.358, 17.88), (1.361, 18.18),
    (1.364, 17.72), (1.367, 18.30), (1.370, 17.98), (1.373, 18.15), (1.376, 17.80), (1.379, 18.25),
    (1.382, 17.90), (1.385, 18.40), (1.388, 17.75), (1.391, 18.10), (1.394, 17.85), (1.397, 18.28),
    (1.400, 17.95), (1.403, 18.18), (1.406, 17.70), (1.409, 18.35), (1.412, 17.88), (1.415, 18.12),
    (1.418, 17.78), (1.421, 18.25), (1.424, 17.92), (1.427, 18.42), (1.430, 17.82), (1.433, 18.15),
    (1.436, 17.68), (1.439, 18.30), (1.442, 17.95), (1.445, 18.20), (1.448, 17.75), (1.451, 18.08),
    (1.454, 17.85), (1.457, 18.35), (1.460, 17.72), (1.463, 18.18), (1.466, 17.90), (1.469, 18.28),
    (1.472, 17.80), (1.475, 18.12), (1.478, 17.65), (1.481, 18.22), (1.350, 18.85), (1.470, 17.40),
    (1.459, 19.09),
]

cyan_dots = [
    (0.511, 18.87), (0.530, 18.48), (0.545, 18.28), (0.565, 18.40), (0.585, 18.35), (0.600, 18.22),
    (0.625, 18.35), (0.645, 18.08), (0.668, 18.25), (0.690, 18.06), (0.715, 18.30), (0.740, 18.12),
    (0.760, 18.08), (0.785, 17.75), (0.807, 17.61), (0.800, 17.92), (0.825, 17.70), (0.845, 18.00),
    (0.865, 17.88), (0.885, 17.95), (0.905, 17.68), (0.925, 17.85), (0.945, 17.65), (0.960, 17.80),
    (0.985, 19.70), (1.005, 20.20), (1.020, 19.30), (1.040, 18.05), (1.065, 17.90), (1.085, 17.70),
    (1.105, 17.90), (1.125, 17.72), (1.130, 17.51), (1.145, 18.00), (1.165, 18.20), (1.185, 17.85),
    (1.205, 17.95), (1.225, 18.15), (1.245, 17.95), (1.265, 18.25), (1.285, 18.05), (1.305, 18.35),
    (1.325, 18.38), (1.345, 18.22), (1.365, 18.40), (1.385, 18.38), (1.405, 18.60), (1.425, 18.45),
    (1.445, 18.28), (1.470, 18.48),
]

BLUE = "#1414d8"
RED = "#e81c1c"
MAGENTA = "#e024e0"
CYAN = "#30dede"
AX = "#333333"
FONT = "Liberation Serif"

# ---------------- figure ----------------
p = figure(width=689, height=513, output_backend="svg", toolbar_location=None,
           x_range=Range1d(0.497, 1.482), y_range=Range1d(20.5, 13.5),
           x_axis_location=None, y_axis_location=None,
           min_border_left=88, min_border_right=0, min_border_top=12, min_border_bottom=57)
p.outline_line_color = None
p.xgrid.visible = False
p.ygrid.visible = False
p.background_fill_color = "white"
p.border_fill_color = "white"


def style(ax, major, minor):
    ax.ticker = FixedTicker(ticks=major, minor_ticks=minor)
    ax.axis_line_color = AX
    ax.axis_line_width = 1.4
    ax.major_tick_line_color = AX
    ax.major_tick_line_width = 1.4
    ax.minor_tick_line_color = AX
    ax.minor_tick_line_width = 1.4
    ax.major_tick_in = 12
    ax.major_tick_out = 0
    ax.minor_tick_in = 7
    ax.minor_tick_out = 0
    ax.major_label_text_font = FONT
    ax.major_label_text_color = "#222222"
    ax.major_label_text_font_size = "19px"
    ax.axis_label_text_font = FONT
    ax.axis_label_text_font_style = "normal"
    ax.axis_label_text_color = "#222222"
    ax.axis_label_text_font_size = "20px"


xb = LinearAxis(axis_label="ORBITAL PHASE")
style(xb, x_major, x_minor)
xb.major_label_overrides = x_labels
xb.major_label_standoff = 12
xb.axis_label_standoff = 5
p.add_layout(xb, "below")

xt = LinearAxis()
style(xt, x_major, x_minor)
xt.major_label_text_color = None
xt.major_label_text_font_size = "1px"
xt.major_label_standoff = 0
p.add_layout(xt, "above")

yl = LinearAxis(axis_label="MAGNITUDE")
style(yl, y_major, y_minor)
yl.major_label_standoff = 13
yl.axis_label_standoff = 25
p.add_layout(yl, "left")

# dots
for dots, col in ((cyan_dots, CYAN), (magenta_dots, MAGENTA), (red_dots, RED), (blue_dots, BLUE)):
    dx = [d[0] for d in dots]
    dy = [d[1] for d in dots]
    p.scatter(dx, dy, marker="square", size=2.3, fill_color=col, fill_alpha=0.75,
              line_color=None)

# lines with small vertex markers
for lx, ly, col in ((cyan_x, cyan_y, CYAN), (magenta_x, magenta_y, MAGENTA),
                    (red_x, red_y, RED), (blue_x, blue_y, BLUE)):
    p.line(lx, ly, line_color=col, line_width=1.4)
    p.scatter(lx, ly, marker="square", size=2.6, fill_color=col, line_color=None)

open("out.html", "w").write(file_html(p, INLINE))
